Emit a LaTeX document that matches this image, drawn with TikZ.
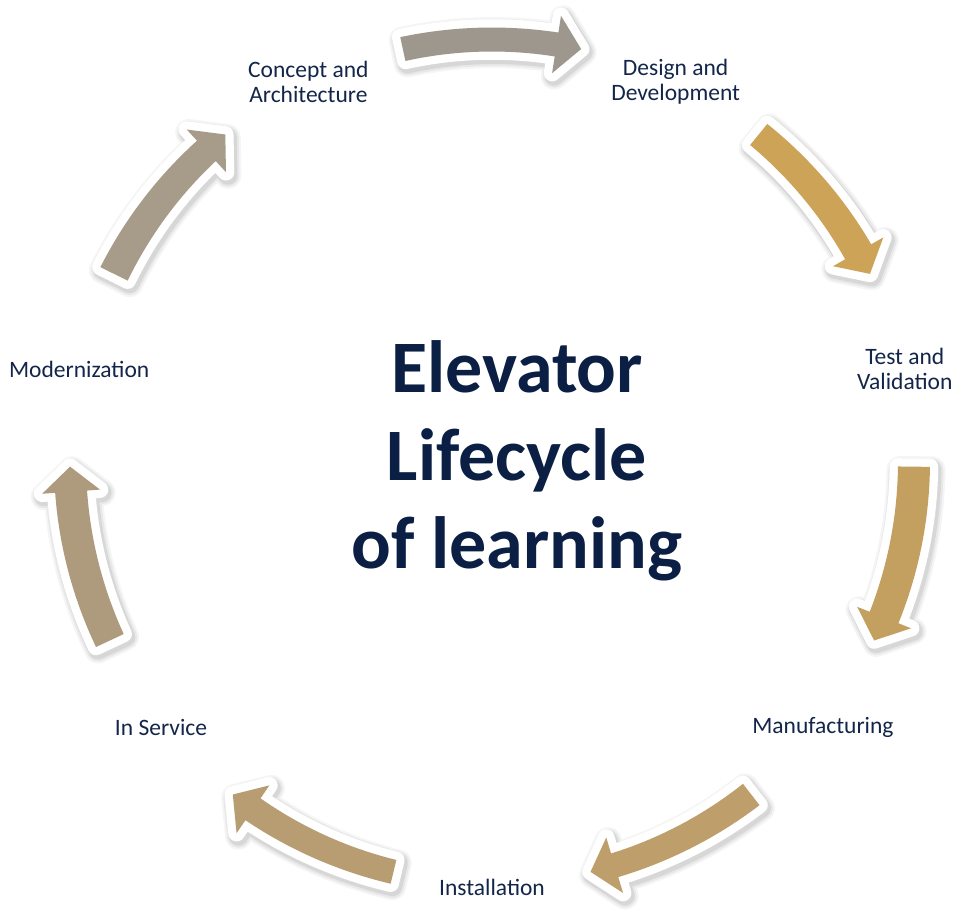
\documentclass[tikz,border=0pt]{standalone}
\usepackage{fontspec}
\setmainfont{Carlito}
\definecolor{txt}{HTML}{13264A}
\definecolor{ttl}{HTML}{0B1F44}
\definecolor{caA}{HTML}{9E978D}
\definecolor{caB}{HTML}{CCA357}
\definecolor{caC}{HTML}{C4A060}
\definecolor{caD}{HTML}{BE9E6B}
\definecolor{caE}{HTML}{B89C72}
\definecolor{caF}{HTML}{AE9B7E}
\definecolor{caG}{HTML}{A79B89}
\newcommand\arrowshape[2]{%
  plot[domain={#1}:{#2+3.4}, samples=30] (\x:{422+12+4*cos(\x)*cos(\x)})
  -- ({#2+3.4}:451) -- ({#2}:422) -- ({#2+3.4}:393)
  -- plot[domain={#2+3.4}:{#1}, samples=30] (\x:{422-12-4*cos(\x)*cos(\x)}) -- cycle}
\newcommand\cycarrow[3]{%
  \foreach \lw/\op in {27/0.04, 23/0.05, 19/0.07}{
    \draw[line width=\lw pt, draw=black, fill=black, opacity=\op, line join=round, shift={(2,-3)}] \arrowshape{#1}{#2};}
  \draw[line width=16.5pt, draw=white, fill=white, line join=round] \arrowshape{#1}{#2};
  \fill[#3] \arrowshape{#1}{#2};
}
\tikzset{
  lbl/.style={font=\fontsize{23.5}{25.5}\selectfont, text=txt, align=center, inner sep=0pt},
  ttlline/.style={font=\fontsize{74}{88}\selectfont\bfseries, text=ttl, anchor=base, inner sep=0pt}
}
\begin{document}
\begin{tikzpicture}[x=1pt,y=1pt]
\useasboundingbox (0,0) rectangle (961,-914);
\fill[white] (0,0) rectangle (961,-914);
\begin{scope}[shift={(492,-461.5)}]
  \cycarrow{102.2}{77.8}{caA}
  \cycarrow{50.8}{26.4}{caB}
  \cycarrow{-0.7}{-25.1}{caC}
  \cycarrow{-52.1}{-76.5}{caD}
  \cycarrow{-103.5}{-127.9}{caE}
  \cycarrow{-154.9}{-179.3}{caF}
  \cycarrow{153.6}{129.2}{caG}
  \begin{scope}[yshift=-2]
  \node[lbl] (concept) at (115.7:423.5) {Concept and\\Architecture};
  \node[lbl] (design) at (64.3:423.5) {Design and\\Development};
  \node[lbl] (test) at (12.9:423.5) {Test and\\Validation};
  \node[lbl] (manuf) at (-38.6:423.5) {Manufacturing};
  \node[lbl] (install) at (-90:423.5) {Installation};
  \node[lbl] (service) at (-141.4:423.5) {In Service};
  \node[lbl] (modern) at (167.1:423.5) {Modernization};
  \end{scope}
\end{scope}
\node[ttlline] (t1) at (517,-392) {Elevator};
\node[ttlline] (t2) at (517,-480) {Lifecycle};
\node[ttlline] (t3) at (517,-568) {of learning};
\end{tikzpicture}
\end{document}
